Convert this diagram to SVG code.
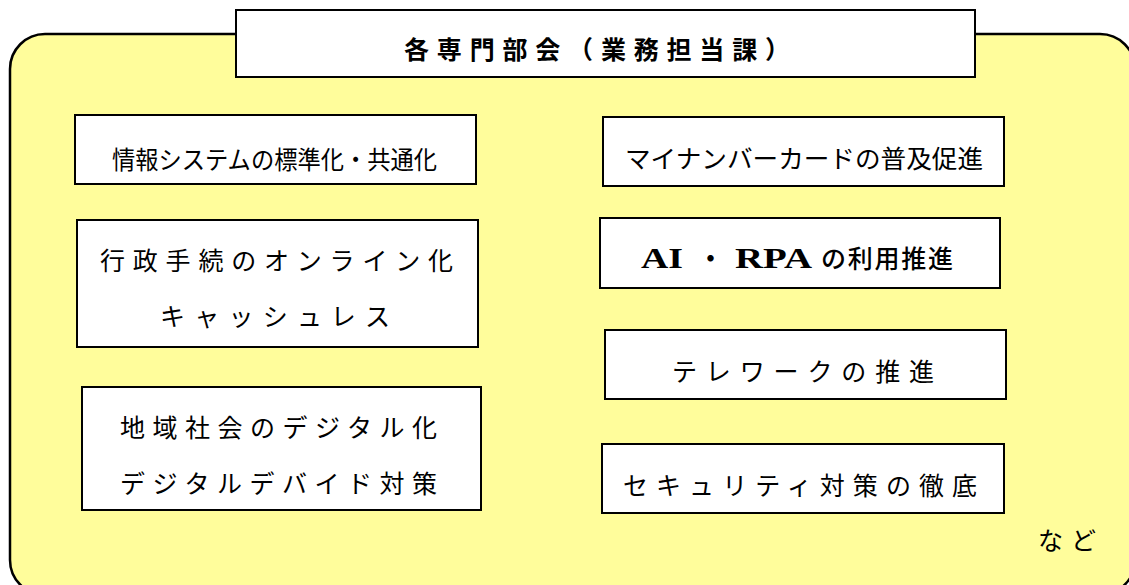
<svg xmlns="http://www.w3.org/2000/svg" width="1129" height="585" viewBox="0 0 1129 585">
<style>
.bg{fill:#fffd9b;stroke:#000;stroke-width:2.5}
.box{fill:#fff;stroke:#000;stroke-width:2}
.t{font-family:"Noto Sans CJK JP","Noto Sans",sans-serif;font-size:25px;fill:#000}
.b{font-weight:bold}
.lat{font-family:"Liberation Serif",serif;font-weight:bold;font-size:29px}
</style>
<rect class="bg" x="10" y="34" width="1125" height="561" rx="35" ry="35"/>
<g id="title">
<rect class="box" x="236" y="10" width="739" height="67"/>
<text class="t b" x="404" y="59" textLength="386" font-size="24">各専門部会（業務担当課）</text>
</g>
<g id="n1">
<rect class="box" x="75" y="115" width="401" height="69"/>
<text class="t" x="112" y="169" font-size="32" textLength="325" lengthAdjust="spacingAndGlyphs">情報システムの標準化・共通化</text>
</g>
<g id="n2">
<rect class="box" x="603" y="117" width="401" height="69"/>
<text class="t" x="625" y="168" textLength="358" lengthAdjust="spacingAndGlyphs">マイナンバーカードの普及促進</text>
</g>
<g id="n3">
<rect class="box" x="77" y="220" width="401" height="127"/>
<text class="t" x="100" y="270" textLength="353">行政手続のオンライン化</text>
<text class="t" x="160" y="326" textLength="230">キャッシュレス</text>
</g>
<g id="n4">
<rect class="box" x="600" y="218" width="400" height="70"/>
<text class="t" x="641" y="268"><tspan class="lat" x="641" textLength="42" lengthAdjust="spacingAndGlyphs">AI</tspan><tspan x="698" font-weight="bold">・</tspan><tspan class="lat" x="735" textLength="77" lengthAdjust="spacingAndGlyphs">RPA</tspan><tspan x="821" textLength="132" font-weight="500">の利用推進</tspan></text>
</g>
<g id="n5">
<rect class="box" x="82" y="387" width="399" height="123"/>
<text class="t" x="120" y="437" textLength="317">地域社会のデジタル化</text>
<text class="t" x="120" y="493" textLength="317">デジタルデバイド対策</text>
</g>
<g id="n6">
<rect class="box" x="605" y="330" width="401" height="69"/>
<text class="t" x="672" y="381" textLength="262">テレワークの推進</text>
</g>
<g id="n7">
<rect class="box" x="602" y="444" width="402" height="69"/>
<text class="t" x="623" y="495" textLength="354">セキュリティ対策の徹底</text>
</g>
<text class="t" x="1038" y="550" font-size="24" textLength="58">など</text>
<g id="connectors"/>
</svg>
